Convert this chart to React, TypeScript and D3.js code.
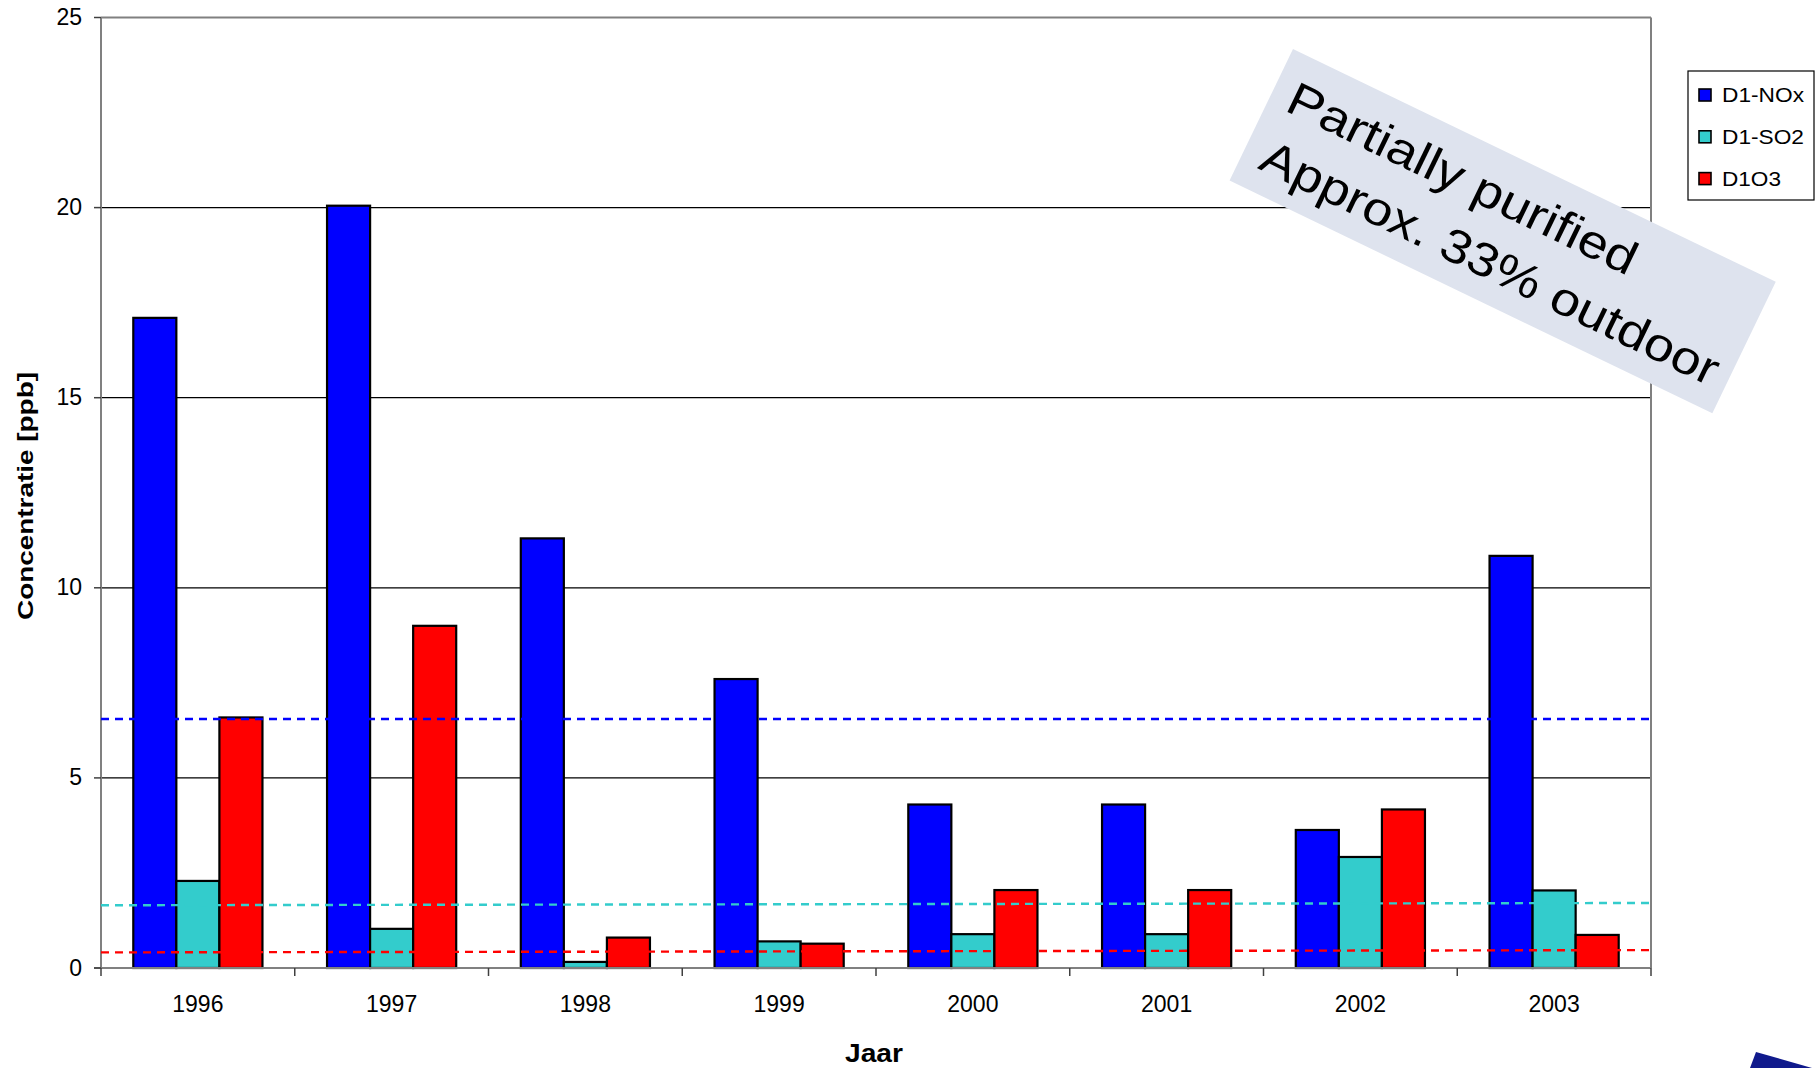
import React from 'react';
import * as d3 from 'd3';

// Yearly mean concentrations per component (ppb)
const years = ['1996', '1997', '1998', '1999', '2000', '2001', '2002', '2003'];
const seriesNames = ['D1-NOx', 'D1-SO2', 'D1O3'];
const seriesColors = ['#0000ff', '#33cccc', '#ff0000'];
const noxValues = [17.1, 20.05, 11.3, 7.6, 4.3, 4.3, 3.63, 10.84];
const so2Values = [2.29, 1.03, 0.16, 0.7, 0.89, 0.89, 2.92, 2.04];
const o3Values = [6.59, 9.0, 0.8, 0.64, 2.05, 2.05, 4.17, 0.87];
const yTicks = [0, 5, 10, 15, 20, 25];

// Reference levels per component: value at the left and at the right edge of the plot
const refStart = [6.55, 1.65, 0.41];
const refEnd = [6.55, 1.71, 0.47];

const noteLines = ['Partially purified', 'Approx. 33% outdoor'];
const xTitle = 'Jaar';
const yTitle = 'Concentratie [ppb]';

const FONT = '"Liberation Sans", Arial, Helvetica, sans-serif';
const W = 1818;
const H = 1068;
const plot = { left: 101, right: 1651, top: 17.5, bottom: 968 };

export default function App() {
  const values = [noxValues, so2Values, o3Values];

  const x = d3.scaleBand<string>().domain(years).range([plot.left, plot.right]).paddingInner(0).paddingOuter(0);
  const step = x.step();
  // Gap width of 150%: 3 bars + 1.5 bar gap per category
  const barW = step / 4.5;
  const xs = d3
    .scaleBand<string>()
    .domain(seriesNames)
    .range([barW * 0.75, barW * 3.75])
    .padding(0);
  const y = d3.scaleLinear().domain([0, 25]).range([plot.bottom, plot.top]);

  const boundaries = years.map((yr) => x(yr) as number).concat([plot.right]);

  return (
    <svg
      width={W}
      height={H}
      viewBox={`0 0 ${W} ${H}`}
      style={{ position: 'absolute', left: 0, top: 0, background: '#ffffff' }}
      fontFamily={FONT}
    >
      <rect x={0} y={0} width={W} height={H} fill="#ffffff" />

      {/* gridlines */}
      {yTicks
        .filter((t) => t > 0 && t < 25)
        .map((t) => (
          <line key={`g${t}`} x1={plot.left} x2={plot.right} y1={y(t)} y2={y(t)} stroke="#000000" strokeWidth={1.2} />
        ))}

      {/* bars */}
      {years.map((yr, i) => (
        <g key={yr} transform={`translate(${x(yr)},0)`}>
          {seriesNames.map((s, k) => {
            const v = values[k][i];
            return (
              <rect
                key={s}
                x={xs(s)}
                y={y(v)}
                width={xs.bandwidth()}
                height={y(0) - y(v)}
                fill={seriesColors[k]}
                stroke="#000000"
                strokeWidth={2.2}
              />
            );
          })}
        </g>
      ))}

      {/* frame */}
      <line x1={plot.left} x2={plot.right} y1={plot.top} y2={plot.top} stroke="#808080" strokeWidth={2} />
      <line x1={plot.right} x2={plot.right} y1={plot.top} y2={plot.bottom} stroke="#808080" strokeWidth={2} />
      <line x1={plot.left} x2={plot.left} y1={plot.top} y2={plot.bottom} stroke="#808080" strokeWidth={2} />
      <line x1={plot.left - 7} x2={plot.right} y1={plot.bottom} y2={plot.bottom} stroke="#808080" strokeWidth={2} />

      {/* reference levels */}
      {seriesNames.map((s, k) => (
        <line
          key={`ref${s}`}
          x1={plot.left}
          x2={plot.right}
          y1={y(refStart[k])}
          y2={y(refEnd[k])}
          stroke={seriesColors[k]}
          strokeWidth={2.4}
          strokeDasharray="8,6"
        />
      ))}

      {/* y axis ticks and labels */}
      {yTicks.map((t) => (
        <g key={`yt${t}`}>
          <line x1={plot.left - 7} x2={plot.left} y1={y(t)} y2={y(t)} stroke="#404040" strokeWidth={1.5} />
          <text x={82} y={y(t) + 7.5} textAnchor="end" fontSize={23} fill="#000000">
            {t}
          </text>
        </g>
      ))}

      {/* x axis ticks and labels */}
      {boundaries.map((bx, i) => (
        <line key={`xt${i}`} x1={bx} x2={bx} y1={plot.bottom} y2={plot.bottom + 8} stroke="#404040" strokeWidth={1.5} />
      ))}
      {years.map((yr) => (
        <text key={`xl${yr}`} x={(x(yr) as number) + step / 2} y={1012} textAnchor="middle" fontSize={23} fill="#000000">
          {yr}
        </text>
      ))}

      {/* axis titles */}
      <text x={874} y={1062} textAnchor="middle" fontSize={25} fontWeight="bold" textLength={58} lengthAdjust="spacingAndGlyphs">
        {xTitle}
      </text>
      <text
        transform="translate(33,496) rotate(-90)"
        textAnchor="middle"
        fontSize={22.5}
        fontWeight="bold"
        textLength={248}
        lengthAdjust="spacingAndGlyphs"
      >
        {yTitle}
      </text>

      {/* legend */}
      <rect x={1688} y={71} width={126} height={129} fill="#ffffff" stroke="#000000" strokeWidth={1.2} />
      {seriesNames.map((s, k) => {
        const cy = 95 + k * 41.8;
        const lens = [82, 82, 59];
        return (
          <g key={`lg${s}`}>
            <rect x={1699} y={cy - 6} width={12} height={12} fill={seriesColors[k]} stroke="#000000" strokeWidth={1.6} />
            <text x={1722} y={cy + 7} fontSize={20} textLength={lens[k]} lengthAdjust="spacingAndGlyphs">
              {s}
            </text>
          </g>
        );
      })}

      {/* annotation */}
      <g transform="translate(1293,49) rotate(25.75)">
        <rect x={0} y={0} width={536} height={146} fill="#dee3ee" />
        <text x={18} y={59} fontSize={47} textLength={382} lengthAdjust="spacingAndGlyphs">
          {noteLines[0]}
        </text>
        <text x={19} y={123} fontSize={47} textLength={503} lengthAdjust="spacingAndGlyphs">
          {noteLines[1]}
        </text>
      </g>

      {/* corner mark */}
      <polygon points="1756,1052 1812,1068 1750,1068" fill="#101a8c" />
    </svg>
  );
}
